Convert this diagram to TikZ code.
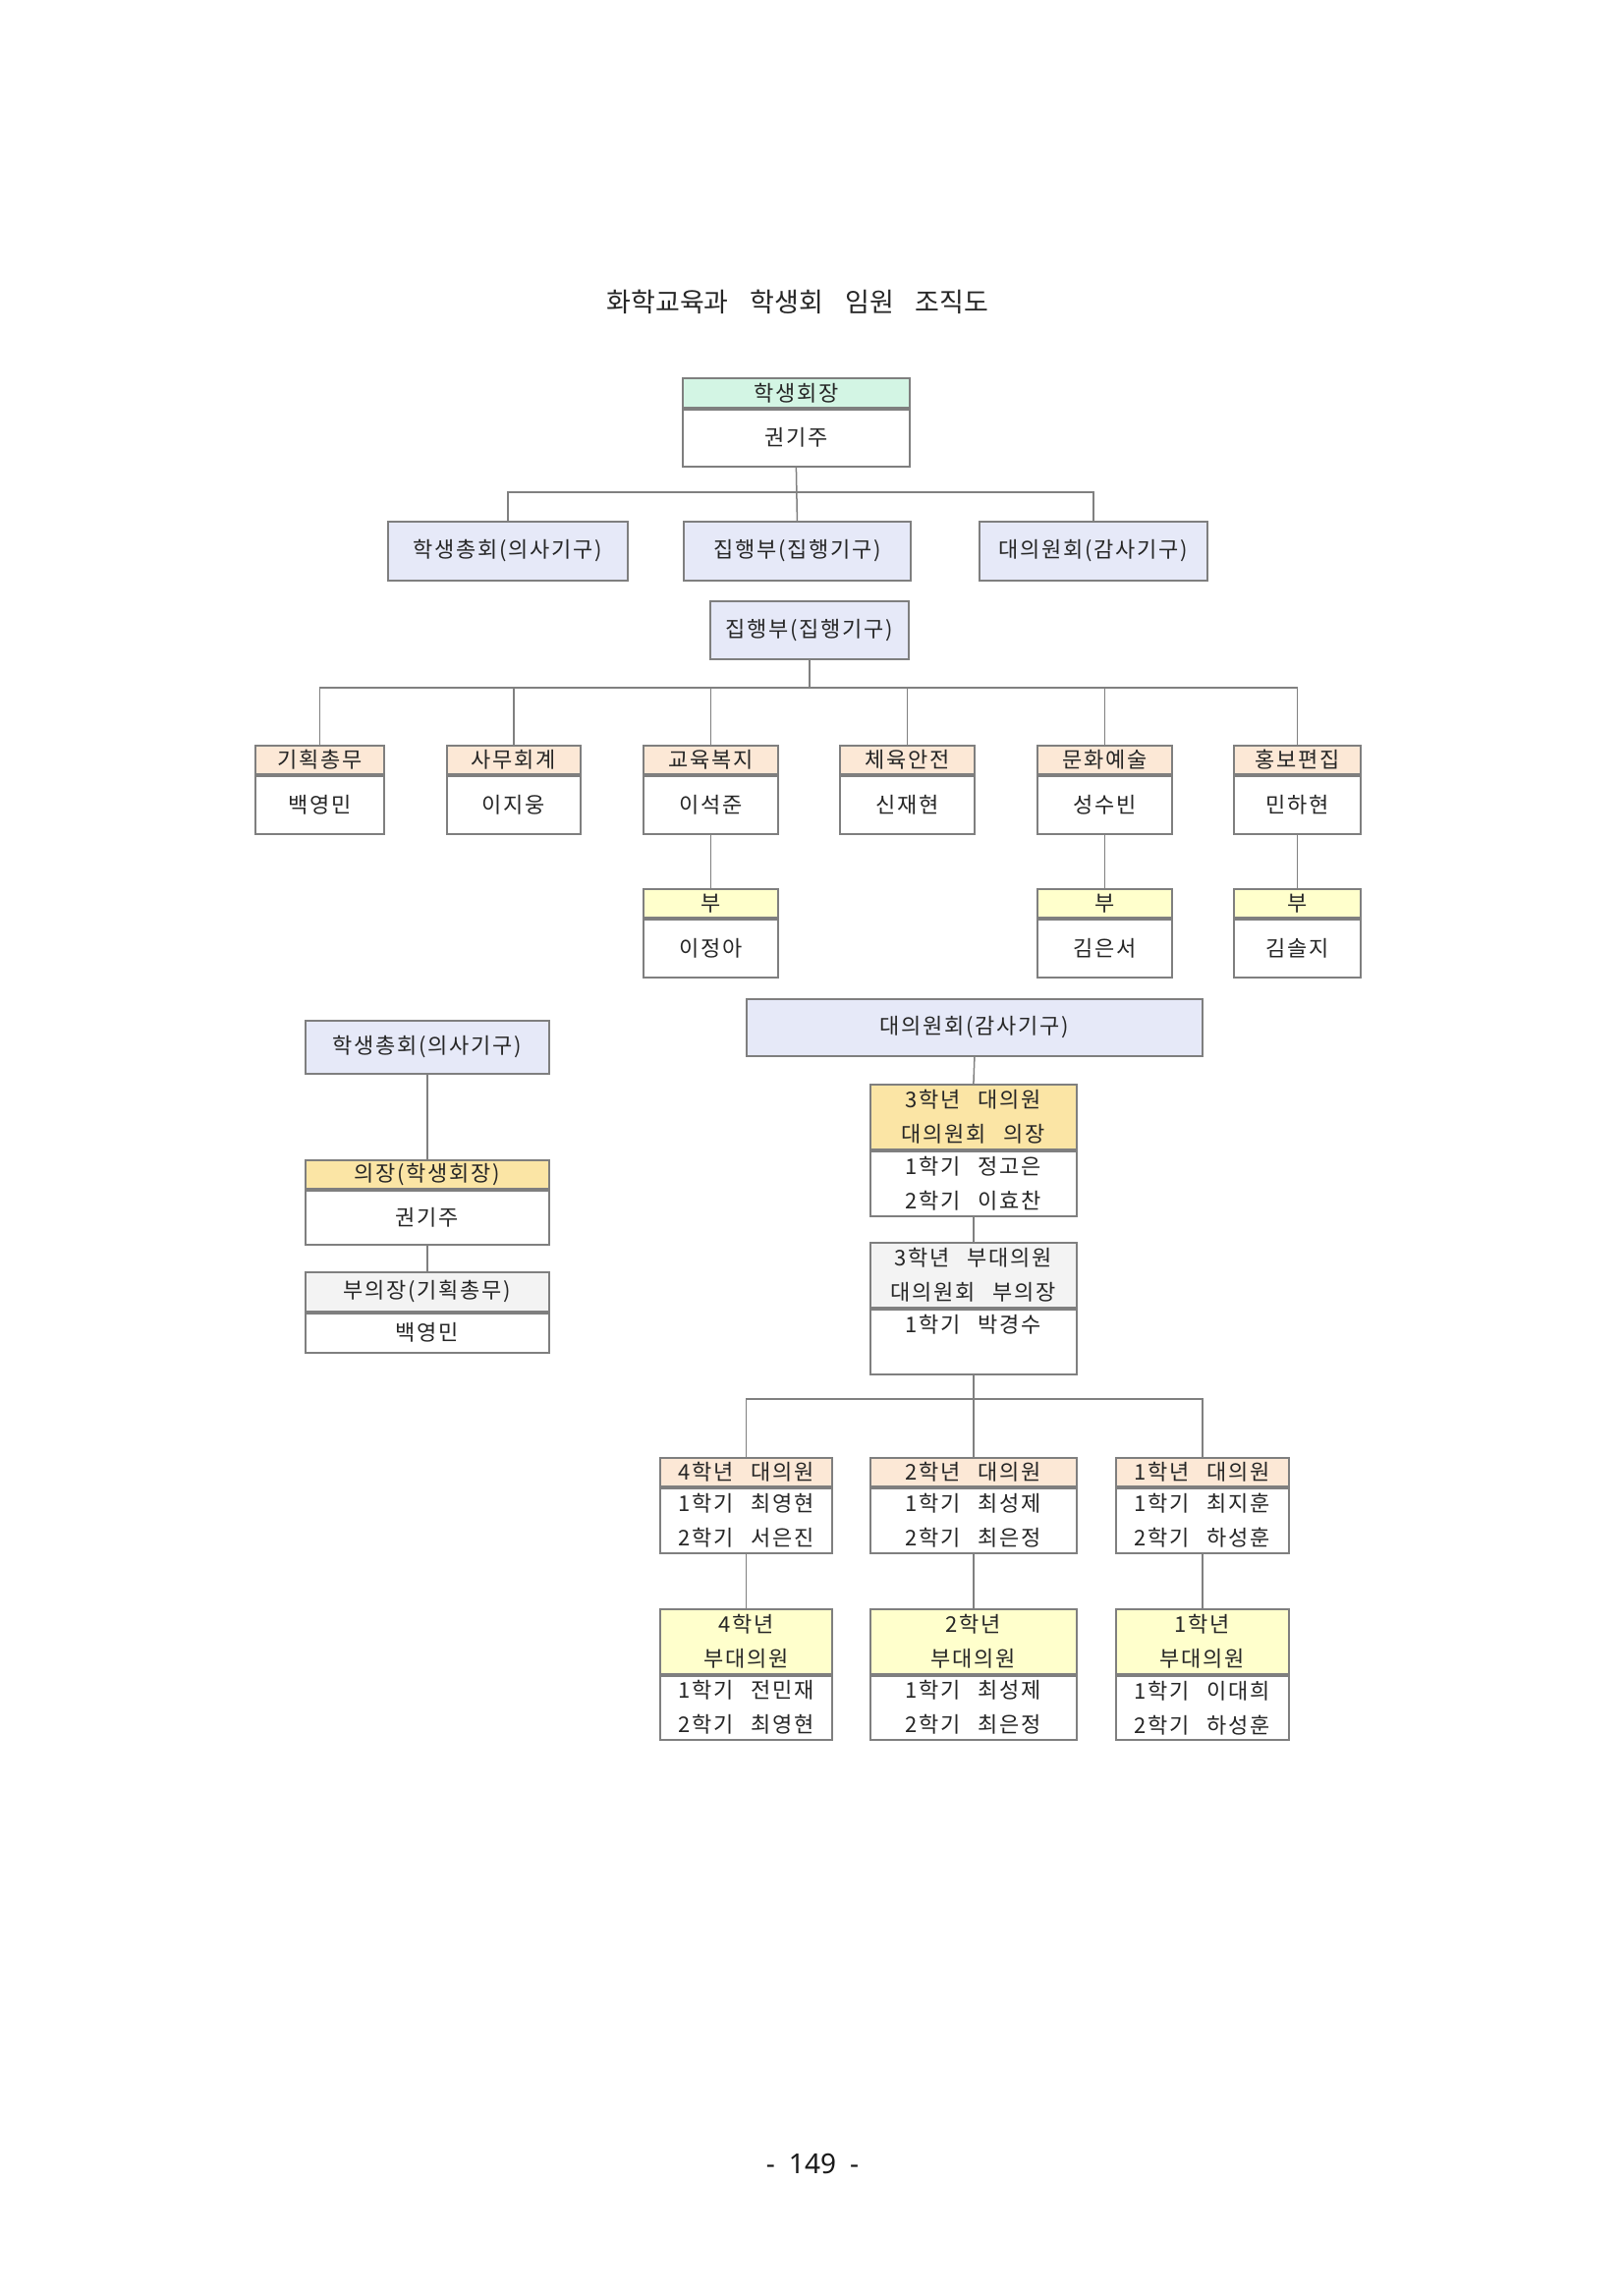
\documentclass[tikz,border=0pt]{standalone}
\usepackage{fontspec}
\setmainfont{Noto Sans}
\newfontfamily\kr[LetterSpace=8,WordSpace=2.6]{Noto Sans CJK KR}
\newfontfamily\krtitle{Noto Sans CJK KR}
\definecolor{bordergray}{HTML}{7F7F7F}
\definecolor{linegray}{HTML}{808080}
\definecolor{mint}{HTML}{D3F5E4}
\definecolor{lav}{HTML}{E6E9F8}
\definecolor{beige}{HTML}{FCE8D6}
\definecolor{lyellow}{HTML}{FFFFCC}
\definecolor{goldhd}{HTML}{FBE5A5}
\definecolor{lgray}{HTML}{F3F3F3}
\tikzset{
  cell/.style={draw=bordergray, line width=1.8pt, inner sep=0pt, align=center,
    font=\kr\fontsize{22}{35}\selectfont, text=black!85},
  conn/.style={draw=linegray, line width=1.5pt},
}
% name, x, y(top), width, header height, body height, fill, header text, body text
\newcommand\orgbox[9]{%
  \node[cell, fill=#7, minimum width=#4pt, minimum height=#5pt, anchor=north west] (#1h) at (#2,#3) {#8};
  \node[cell, fill=white, minimum width=#4pt, minimum height=#6pt, anchor=north] (#1) at (#1h.south) {#9};
}
% name, x, y(top), width, height, fill, text
\newcommand\onebox[7]{%
  \node[cell, fill=#6, minimum width=#4pt, minimum height=#5pt, anchor=north west] (#1) at (#2,#3) {#7};
}
\begin{document}
\begin{tikzpicture}[x=1pt,y=-1pt]
\path[fill=white, use as bounding box] (0,0) rectangle (1652,2336);

\node[font=\krtitle\fontsize{27}{30}\selectfont, text=black!85] (title) at (812,307)
  {화학교육과\hspace{22pt}학생회\hspace{22pt}임원\hspace{22pt}조직도};

% ---- top level
\orgbox{A}{694}{384}{231}{30}{58}{mint}{학생회장}{권기주}
\onebox{B1}{394}{530}{244}{60}{lav}{학생총회(의사기구)}
\onebox{B2}{695}{530}{231}{60}{lav}{집행부(집행기구)}
\onebox{B3}{996}{530}{232}{60}{lav}{대의원회(감사기구)}
\draw[conn] (A.south) -- (B2.north);
\draw[conn] (B1.north) -- (B1.north |- 0,501) -- (B3.north |- 0,501) -- (B3.north);

% ---- executive
\onebox{C}{722}{611}{202}{59}{lav}{집행부(집행기구)}
\orgbox{D1}{259}{758}{131}{29}{59}{beige}{기획총무}{백영민}
\orgbox{D2}{454}{758}{136}{29}{59}{beige}{사무회계}{이지웅}
\orgbox{D3}{654}{758}{137}{29}{59}{beige}{교육복지}{이석준}
\orgbox{D4}{854}{758}{137}{29}{59}{beige}{체육안전}{신재현}
\orgbox{D5}{1055}{758}{137}{29}{59}{beige}{문화예술}{성수빈}
\orgbox{D6}{1255}{758}{129}{29}{59}{beige}{홍보편집}{민하현}
\draw[conn] (C.south) -- (C.south |- 0,700);
\draw[conn] (D1h.north) -- (D1h.north |- 0,700) -- (D6h.north |- 0,700) -- (D6h.north);
\foreach \n in {D2,D3,D4,D5} \draw[conn] (\n h.north) -- (\n h.north |- 0,700);
\orgbox{E3}{654}{904}{137}{29}{59}{lyellow}{부}{이정아}
\orgbox{E5}{1055}{904}{137}{29}{59}{lyellow}{부}{김은서}
\orgbox{E6}{1255}{904}{129}{29}{59}{lyellow}{부}{김솔지}
\draw[conn] (D3.south) -- (E3h.north);
\draw[conn] (D5.south) -- (E5h.north);
\draw[conn] (D6.south) -- (E6h.north);

% ---- general assembly
\onebox{F}{310}{1038}{248}{54}{lav}{학생총회(의사기구)}
\orgbox{G}{310}{1180}{248}{29}{55}{goldhd}{의장(학생회장)}{권기주}
\orgbox{H}{310}{1294}{248}{40}{40}{lgray}{부의장(기획총무)}{백영민}
\draw[conn] (F.south) -- (Gh.north);
\draw[conn] (G.south) -- (Hh.north);

% ---- council
\onebox{I}{759}{1016}{464}{58}{lav}{대의원회(감사기구)}
\orgbox{J}{885}{1103}{210}{66}{66}{goldhd}{3학년 대의원\\대의원회 의장}{1학기 정고은\\2학기 이효찬}
\orgbox{K}{885}{1264}{210}{66}{66}{lgray}{3학년 부대의원\\대의원회 부의장}{1학기 박경수\\\phantom{가}}
\draw[conn] (I.south) -- (Jh.north);
\draw[conn] (J.south) -- (Kh.north);

\orgbox{L4}{671}{1483}{175}{29}{66}{beige}{4학년 대의원}{1학기 최영현\\2학기 서은진}
\orgbox{L2}{885}{1483}{210}{29}{66}{beige}{2학년 대의원}{1학기 최성제\\2학기 최은정}
\orgbox{L1}{1135}{1483}{176}{29}{66}{beige}{1학년 대의원}{1학기 최지훈\\2학기 하성훈}
\draw[conn] (K.south) -- (K.south |- 0,1424);
\draw[conn] (L4h.north) -- (L4h.north |- 0,1424) -- (L1h.north |- 0,1424) -- (L1h.north);
\draw[conn] (L2h.north) -- (L2h.north |- 0,1424);

\orgbox{M4}{671}{1637}{175}{66}{65}{lyellow}{4학년\\부대의원}{1학기 전민재\\2학기 최영현}
\orgbox{M2}{885}{1637}{210}{66}{65}{lyellow}{2학년\\부대의원}{1학기 최성제\\2학기 최은정}
\orgbox{M1}{1135}{1637}{176}{66}{65}{lyellow}{1학년\\부대의원}{1학기 이대희\\2학기 하성훈}
\draw[conn] (L4.south) -- (M4h.north);
\draw[conn] (L2.south) -- (M2h.north);
\draw[conn] (L1.south) -- (M1h.north);

\node[font=\fontsize{28}{30}\selectfont, text=black!90] (pg) at (827,2202) {-\hspace{14pt}149\hspace{14pt}-};
\end{tikzpicture}
\end{document}
